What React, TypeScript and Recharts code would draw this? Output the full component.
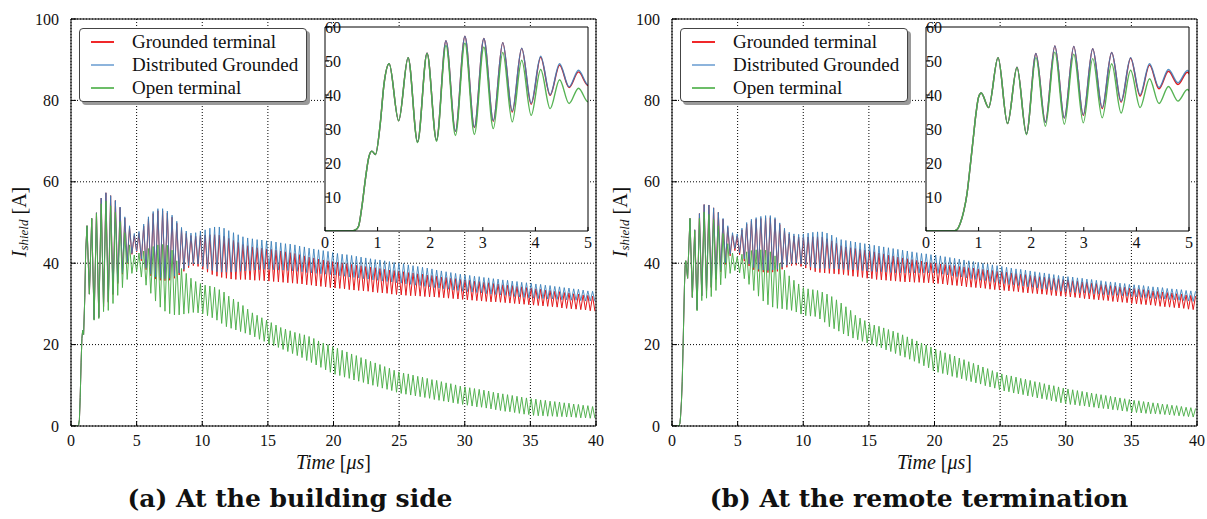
import { LineChart, Line, XAxis, YAxis, CartesianGrid, Legend } from 'recharts';

// shield current I [A] vs time [µs].
// every swing is one peak followed by one trough, half a period apart.
const HALF_PERIOD = 0.18;

const MAIN_X_TICKS = [0, 5, 10, 15, 20, 25, 30, 35, 40];
const MAIN_Y_TICKS = [0, 20, 40, 60, 80, 100];
const INSET_X_TICKS = [0, 1, 2, 3, 4, 5];
const INSET_Y_TICKS = [10, 20, 30, 40, 50, 60];

const SERIES_NAMES = ['Grounded terminal', 'Distributed Grounded', 'Open terminal'];

// ---- (a) building side ----
const LEFT_RISE_T = [0, 0.5, 0.58, 0.64, 0.7, 0.77, 0.83, 0.89, 0.96, 1.05, 1.12];
const LEFT_RISE_I = [0, 0, 0.3, 1.5, 7, 15.5, 21.5, 23.5, 22.5, 31.5, 43];
const LEFT_FIRST_PEAK = 1.22;

const LEFT_RED_PEAKS = [
  49.2, 51.0, 52.4, 56.0, 57.3, 56.6, 55.4, 53.7, 51.1, 48.8,
  46.8, 47.3, 49.1, 50.9, 52.2, 52.9, 52.9, 52.3, 51.3, 49.8,
  48.3, 47.3, 46.8, 46.6, 46.8, 46.9, 47.0, 47.0, 46.9, 46.6,
  46.1, 45.6, 45.1, 44.6, 44.3, 44.0, 43.8, 43.7, 43.5, 43.4,
  43.2, 43.0, 42.8, 42.6, 42.4, 42.1, 41.8, 41.5, 41.3, 41.0,
  40.8, 40.6, 40.4, 40.2, 40.1, 39.9, 39.7, 39.5, 39.4, 39.2,
  39.0, 38.9, 38.7, 38.5, 38.3, 38.2, 38.0, 37.9, 37.7, 37.6,
  37.4, 37.3, 37.1, 37.0, 36.8, 36.6, 36.5, 36.3, 36.2, 36.0,
  35.9, 35.8, 35.6, 35.5, 35.3, 35.2, 35.0, 34.9, 34.7, 34.6,
  34.5, 34.3, 34.2, 34.0, 33.9, 33.7, 33.6, 33.4, 33.3, 33.1,
  33.0, 32.8, 32.7, 32.5, 32.4, 32.2, 32.1, 31.9,
];
const LEFT_RED_TROUGHS = [
  32.4, 26.2, 26.7, 29.3, 30.4, 32.3, 35.0, 37.3, 39.9, 42.2,
  42.8, 40.6, 38.4, 36.9, 36.1, 35.8, 35.7, 35.8, 36.3, 37.1,
  38.0, 38.9, 39.4, 39.2, 38.5, 37.8, 37.2, 36.8, 36.5, 36.3,
  36.1, 36.0, 36.0, 36.0, 35.9, 35.8, 35.8, 35.7, 35.6, 35.5,
  35.4, 35.3, 35.2, 35.1, 35.0, 34.9, 34.7, 34.6, 34.4, 34.3,
  34.2, 34.0, 33.9, 33.8, 33.7, 33.5, 33.4, 33.3, 33.2, 33.1,
  32.9, 32.8, 32.7, 32.6, 32.4, 32.3, 32.2, 32.1, 32.0, 32.0,
  31.9, 31.8, 31.7, 31.7, 31.6, 31.5, 31.4, 31.3, 31.2, 31.1,
  31.0, 30.9, 30.8, 30.7, 30.6, 30.5, 30.5, 30.4, 30.3, 30.2,
  30.1, 30.0, 29.9, 29.8, 29.7, 29.6, 29.5, 29.4, 29.3, 29.2,
  29.0, 28.9, 28.8, 28.7, 28.6, 28.5, 28.3, 28.2,
];
const LEFT_BLUE_PEAKS = [
  49.2, 51.0, 52.4, 56.0, 57.3, 56.6, 55.4, 53.8, 51.4, 49.2,
  47.3, 47.8, 49.6, 51.4, 52.7, 53.4, 53.4, 52.8, 51.8, 50.3,
  48.8, 47.9, 47.4, 47.5, 47.9, 48.2, 48.6, 48.9, 48.9, 48.6,
  48.0, 47.5, 47.0, 46.5, 46.2, 46.0, 45.8, 45.7, 45.5, 45.4,
  45.2, 45.0, 44.8, 44.7, 44.5, 44.2, 44.0, 43.7, 43.5, 43.3,
  43.1, 42.9, 42.6, 42.4, 42.2, 42.1, 41.9, 41.7, 41.5, 41.3,
  41.1, 40.9, 40.8, 40.6, 40.4, 40.2, 40.0, 39.9, 39.6, 39.4,
  39.2, 39.0, 38.8, 38.6, 38.3, 38.1, 37.9, 37.7, 37.5, 37.3,
  37.1, 37.0, 36.8, 36.7, 36.5, 36.4, 36.2, 36.1, 35.9, 35.8,
  35.6, 35.5, 35.3, 35.2, 35.1, 34.9, 34.8, 34.6, 34.5, 34.3,
  34.2, 34.0, 33.9, 33.7, 33.6, 33.4, 33.2, 33.1,
];
const LEFT_BLUE_TROUGHS = [
  32.4, 26.2, 26.7, 29.4, 30.6, 32.5, 35.3, 37.6, 40.1, 42.4,
  43.0, 41.0, 38.8, 37.3, 36.6, 36.3, 36.2, 36.3, 36.8, 37.6,
  38.5, 39.4, 39.9, 39.8, 39.2, 38.6, 38.2, 37.9, 37.8, 37.8,
  37.8, 37.9, 38.0, 38.1, 38.2, 38.3, 38.4, 38.5, 38.5, 38.4,
  38.3, 38.3, 38.2, 38.1, 38.0, 37.9, 37.7, 37.6, 37.5, 37.4,
  37.3, 37.2, 37.1, 36.9, 36.8, 36.6, 36.5, 36.4, 36.2, 36.1,
  35.9, 35.8, 35.6, 35.5, 35.4, 35.2, 35.1, 34.9, 34.8, 34.6,
  34.5, 34.3, 34.2, 34.0, 33.9, 33.7, 33.6, 33.4, 33.3, 33.1,
  33.0, 32.9, 32.8, 32.7, 32.5, 32.4, 32.3, 32.2, 32.1, 31.9,
  31.8, 31.7, 31.6, 31.5, 31.4, 31.3, 31.3, 31.2, 31.2, 31.1,
  31.0, 31.0, 30.9, 30.9, 30.8, 30.7, 30.7, 30.6,
];
const LEFT_GREEN_PEAKS = [
  49.2, 51.0, 52.2, 54.6, 55.3, 54.1, 52.5, 50.2, 47.5, 44.5,
  42.0, 42.5, 43.0, 43.6, 44.1, 44.5, 44.6, 44.4, 43.2, 40.6,
  38.7, 37.5, 36.3, 35.5, 35.0, 34.6, 34.4, 34.1, 33.5, 32.9,
  31.9, 31.2, 30.5, 29.6, 28.7, 27.8, 27.2, 26.6, 26.0, 25.4,
  24.8, 24.2, 23.8, 23.4, 23.0, 22.7, 22.4, 22.0, 21.5, 20.9,
  20.4, 20.0, 19.5, 19.1, 18.6, 18.2, 17.7, 17.3, 16.8, 16.4,
  15.9, 15.5, 15.1, 14.6, 14.2, 13.7, 13.3, 13.0, 12.8, 12.5,
  12.2, 12.0, 11.7, 11.4, 11.2, 10.9, 10.6, 10.4, 10.1, 9.8,
  9.6, 9.4, 9.2, 9.0, 8.8, 8.6, 8.3, 8.1, 7.9, 7.7,
  7.5, 7.3, 7.1, 6.9, 6.7, 6.6, 6.4, 6.3, 6.1, 6.0,
  5.9, 5.7, 5.6, 5.4, 5.3, 5.1, 5.0, 4.8,
];
const LEFT_GREEN_TROUGHS = [
  32.4, 26.0, 26.4, 28.1, 28.4, 30.1, 32.1, 34.0, 36.0, 37.5,
  38.0, 36.6, 34.6, 32.6, 30.7, 29.2, 28.2, 27.6, 27.3, 27.3,
  27.5, 27.7, 27.9, 27.8, 27.6, 27.1, 26.6, 26.0, 25.2, 24.4,
  24.0, 23.6, 23.2, 22.8, 22.4, 21.9, 21.3, 20.8, 20.1, 19.7,
  19.3, 18.8, 18.3, 17.8, 17.3, 16.8, 16.1, 15.6, 15.0, 14.4,
  13.8, 13.2, 12.7, 12.4, 12.0, 11.7, 11.3, 11.0, 10.7, 10.3,
  10.0, 9.7, 9.3, 9.0, 8.7, 8.3, 8.0, 7.8, 7.6, 7.4,
  7.2, 7.0, 6.8, 6.5, 6.3, 6.1, 5.9, 5.7, 5.5, 5.3,
  5.1, 4.9, 4.7, 4.6, 4.4, 4.2, 4.0, 3.8, 3.6, 3.5,
  3.3, 3.1, 2.9, 2.8, 2.6, 2.5, 2.5, 2.4, 2.4, 2.3,
  2.3, 2.2, 2.2, 2.1, 2.0, 2.0, 1.9, 1.9,
];

// ---- (b) remote termination ----
const RIGHT_RISE_T = [0, 0.53, 0.6, 0.65, 0.72, 0.78, 0.84, 0.9, 0.95, 1.0, 1.05, 1.19];
const RIGHT_RISE_I = [0, 0, 0.6, 2.2, 6, 11, 19, 27.5, 34.5, 39.4, 40.6, 36.3];
const RIGHT_FIRST_PEAK = 1.37;

const RIGHT_RED_PEAKS = [
  51.0, 48.2, 52.2, 54.4, 54.3, 53.6, 52.5, 50.8, 48.8, 47.0,
  46.7, 48.2, 49.6, 50.4, 50.8, 51.0, 51.2, 51.2, 50.8, 49.5,
  48.2, 47.2, 46.7, 46.4, 46.3, 46.4, 46.5, 46.5, 46.4, 46.0,
  45.5, 44.9, 44.3, 44.0, 43.8, 43.6, 43.4, 43.2, 43.0, 42.8,
  42.5, 42.3, 42.0, 41.8, 41.5, 41.3, 41.1, 40.9, 40.7, 40.5,
  40.3, 40.1, 40.0, 39.8, 39.7, 39.5, 39.4, 39.2, 39.1, 38.9,
  38.8, 38.6, 38.5, 38.3, 38.2, 38.0, 37.9, 37.8, 37.6, 37.5,
  37.3, 37.2, 37.0, 36.9, 36.7, 36.6, 36.5, 36.3, 36.2, 36.0,
  35.9, 35.7, 35.6, 35.4, 35.3, 35.1, 35.0, 34.8, 34.7, 34.5,
  34.4, 34.2, 34.1, 33.9, 33.8, 33.7, 33.5, 33.4, 33.2, 33.1,
  32.9, 32.8, 32.7, 32.5, 32.4, 32.2, 32.1, 31.9,
];
const RIGHT_RED_TROUGHS = [
  31.6, 28.6, 32.0, 33.2, 34.0, 36.0, 37.9, 39.7, 41.8, 43.1,
  42.1, 40.5, 39.3, 38.4, 38.0, 37.8, 37.7, 37.8, 38.0, 38.5,
  39.0, 39.4, 39.5, 39.2, 38.8, 38.3, 37.9, 37.7, 37.6, 37.5,
  37.4, 37.3, 37.2, 37.0, 36.8, 36.7, 36.5, 36.3, 36.2, 36.0,
  35.9, 35.8, 35.7, 35.6, 35.5, 35.4, 35.4, 35.3, 35.3, 35.2,
  35.2, 35.1, 35.0, 34.9, 34.7, 34.6, 34.5, 34.4, 34.2, 34.1,
  34.0, 33.9, 33.8, 33.6, 33.5, 33.4, 33.3, 33.2, 33.1, 33.0,
  32.8, 32.7, 32.6, 32.5, 32.4, 32.3, 32.1, 32.0, 31.9, 31.8,
  31.7, 31.6, 31.5, 31.3, 31.2, 31.1, 31.0, 30.9, 30.8, 30.6,
  30.5, 30.4, 30.3, 30.1, 30.0, 29.9, 29.8, 29.7, 29.6, 29.4,
  29.3, 29.2, 29.1, 29.0, 28.9, 28.7, 28.6,
];
const RIGHT_BLUE_PEAKS = [
  51.0, 48.2, 52.2, 54.4, 54.3, 53.6, 52.5, 51.0, 49.2, 47.5,
  47.2, 48.6, 50.0, 50.8, 51.2, 51.5, 51.7, 51.7, 51.2, 49.9,
  48.6, 47.6, 47.2, 47.1, 47.2, 47.4, 47.6, 47.7, 47.7, 47.4,
  46.9, 46.3, 45.8, 45.6, 45.4, 45.2, 45.0, 44.8, 44.6, 44.4,
  44.2, 44.0, 43.8, 43.6, 43.4, 43.2, 43.0, 42.8, 42.6, 42.4,
  42.3, 42.1, 42.0, 41.8, 41.6, 41.4, 41.2, 41.0, 40.8, 40.6,
  40.4, 40.2, 40.0, 39.8, 39.6, 39.4, 39.2, 39.0, 38.8, 38.6,
  38.5, 38.3, 38.1, 37.9, 37.7, 37.6, 37.4, 37.2, 37.0, 36.8,
  36.7, 36.6, 36.4, 36.3, 36.1, 36.0, 35.8, 35.7, 35.5, 35.4,
  35.3, 35.1, 35.0, 34.8, 34.7, 34.6, 34.5, 34.3, 34.2, 34.1,
  34.0, 33.8, 33.7, 33.6, 33.5, 33.3, 33.2, 33.1,
];
const RIGHT_BLUE_TROUGHS = [
  31.6, 28.6, 32.0, 33.3, 34.2, 36.3, 38.2, 40.1, 42.2, 43.6,
  42.6, 41.0, 39.8, 38.9, 38.5, 38.3, 38.2, 38.3, 38.5, 39.0,
  39.5, 39.9, 40.0, 39.8, 39.5, 39.1, 38.8, 38.7, 38.7, 38.7,
  38.6, 38.6, 38.5, 38.4, 38.4, 38.3, 38.2, 38.1, 38.0, 37.9,
  37.9, 37.8, 37.7, 37.6, 37.6, 37.6, 37.6, 37.6, 37.6, 37.6,
  37.6, 37.6, 37.5, 37.3, 37.1, 36.9, 36.7, 36.6, 36.4, 36.2,
  36.0, 35.8, 35.7, 35.5, 35.3, 35.1, 35.0, 34.8, 34.7, 34.5,
  34.4, 34.2, 34.1, 33.9, 33.7, 33.6, 33.4, 33.3, 33.1, 33.0,
  32.9, 32.8, 32.7, 32.7, 32.6, 32.5, 32.4, 32.3, 32.2, 32.1,
  32.1, 32.0, 31.9, 31.8, 31.7, 31.6, 31.5, 31.4, 31.3, 31.3,
  31.2, 31.1, 31.0, 30.9, 30.8, 30.7, 30.6,
];
const RIGHT_GREEN_PEAKS = [
  51.0, 48.0, 51.0, 52.6, 52.0, 50.7, 49.2, 47.3, 44.8, 42.5,
  41.6, 42.2, 42.8, 43.1, 43.3, 43.3, 43.2, 42.8, 41.8, 40.0,
  38.3, 36.9, 35.8, 34.9, 34.0, 33.7, 33.5, 33.3, 32.9, 32.4,
  31.8, 31.0, 30.2, 29.3, 28.4, 27.2, 26.5, 25.9, 25.2, 24.8,
  24.5, 24.1, 23.7, 23.3, 22.9, 22.4, 21.9, 21.4, 20.9, 20.4,
  19.9, 19.4, 18.9, 18.5, 18.0, 17.6, 17.2, 16.7, 16.3, 15.8,
  15.4, 15.0, 14.5, 14.1, 13.6, 13.2, 12.8, 12.5, 12.3, 12.0,
  11.7, 11.5, 11.2, 10.9, 10.7, 10.4, 10.1, 9.9, 9.6, 9.3,
  9.1, 8.9, 8.7, 8.5, 8.3, 8.1, 7.9, 7.7, 7.5, 7.3,
  7.1, 6.9, 6.7, 6.5, 6.3, 6.2, 6.0, 5.9, 5.7, 5.6,
  5.4, 5.3, 5.1, 5.0, 4.8, 4.6, 4.5, 4.3,
];
const RIGHT_GREEN_TROUGHS = [
  31.6, 28.3, 30.8, 31.4, 31.8, 33.3, 34.7, 36.3, 37.5, 38.2,
  37.6, 36.2, 34.8, 33.3, 31.9, 30.7, 29.8, 29.2, 28.9, 28.8,
  28.6, 28.4, 28.0, 27.5, 27.1, 27.0, 26.9, 26.3, 25.5, 24.4,
  23.9, 23.3, 22.6, 22.1, 21.6, 21.2, 20.8, 20.4, 20.0, 19.6,
  19.2, 18.7, 18.3, 17.8, 17.3, 16.9, 16.4, 15.9, 15.4, 14.8,
  14.3, 13.6, 13.2, 12.9, 12.6, 12.2, 11.9, 11.6, 11.2, 10.9,
  10.6, 10.3, 9.9, 9.6, 9.3, 8.9, 8.6, 8.4, 8.1, 7.9,
  7.7, 7.4, 7.2, 6.9, 6.7, 6.5, 6.2, 6.0, 5.7, 5.5,
  5.3, 5.2, 5.0, 4.9, 4.7, 4.6, 4.4, 4.3, 4.2, 4.0,
  3.9, 3.7, 3.6, 3.4, 3.3, 3.2, 3.1, 3.0, 3.0, 2.9,
  2.8, 2.7, 2.6, 2.5, 2.4, 2.3, 2.2,
];

const SERIF = '"Liberation Serif", "DejaVu Serif", serif';
const TICK = { fontSize: 16, fill: '#111', style: { fontFamily: SERIF } };

const COLORS = { red: '#e41a1c', blue: '#377eb8', green: '#4daf4a' };
const LEGEND_COLORS = ['#f0282a', '#8db4dc', '#6cbd68'];

type Swing = { peaks: number[]; troughs: number[] };
type Row = { t: number; red: number; blue: number; green: number };

function buildRows(riseT: number[], riseI: number[], firstPeak: number, red: Swing, blue: Swing, green: Swing): Row[] {
  const rows: Row[] = riseT.map((t, i) => ({ t, red: riseI[i], blue: riseI[i], green: riseI[i] }));
  const pick = (s: Swing, k: number) => (k % 2 === 0 ? s.peaks[k / 2] : s.troughs[(k - 1) / 2]);
  const count = red.peaks.length + red.troughs.length;
  for (let k = 0; k < count; k++) {
    rows.push({
      t: Math.round((firstPeak + k * HALF_PERIOD) * 1000) / 1000,
      red: pick(red, k),
      blue: pick(blue, k),
      green: pick(green, k),
    });
  }
  return rows;
}

const LEFT_ROWS = buildRows(
  LEFT_RISE_T, LEFT_RISE_I, LEFT_FIRST_PEAK,
  { peaks: LEFT_RED_PEAKS, troughs: LEFT_RED_TROUGHS },
  { peaks: LEFT_BLUE_PEAKS, troughs: LEFT_BLUE_TROUGHS },
  { peaks: LEFT_GREEN_PEAKS, troughs: LEFT_GREEN_TROUGHS },
);
const RIGHT_ROWS = buildRows(
  RIGHT_RISE_T, RIGHT_RISE_I, RIGHT_FIRST_PEAK,
  { peaks: RIGHT_RED_PEAKS, troughs: RIGHT_RED_TROUGHS },
  { peaks: RIGHT_BLUE_PEAKS, troughs: RIGHT_BLUE_TROUGHS },
  { peaks: RIGHT_GREEN_PEAKS, troughs: RIGHT_GREEN_TROUGHS },
);

const SERIES = [
  { key: 'red', name: SERIES_NAMES[0], color: COLORS.red, opacity: 1 },
  { key: 'blue', name: SERIES_NAMES[1], color: COLORS.blue, opacity: 0.85 },
  { key: 'green', name: SERIES_NAMES[2], color: COLORS.green, opacity: 0.95 },
];

const renderLegend = () => (
  <div
    style={{
      width: 228,
      height: 74,
      boxSizing: 'border-box',
      border: '1px solid #444',
      borderRadius: 4,
      background: '#fff',
      boxShadow: '3px 3px 0 #9a9a9a',
      padding: '1px 0 0 11px',
      fontFamily: SERIF,
      fontSize: 19,
      color: '#111',
    }}
  >
    {SERIES_NAMES.map((name, i) => (
      <div key={name} style={{ display: 'flex', alignItems: 'center', height: 23, whiteSpace: 'nowrap' }}>
        <span style={{ display: 'inline-block', width: 23, height: 0, borderTop: `2px solid ${LEGEND_COLORS[i]}`, marginRight: 18 }} />
        <span>{name}</span>
      </div>
    ))}
  </div>
);

const renderTimeLabel = () => (
  <text x={333.5} y={469} textAnchor="middle" fontSize={20} fill="#111" style={{ fontFamily: SERIF }}>
    <tspan fontStyle="italic">Time</tspan>
    <tspan> [</tspan>
    <tspan fontStyle="italic">μs</tspan>
    <tspan>]</tspan>
  </text>
);

const renderCurrentLabel = () => (
  <text
    x={19} y={222} transform="rotate(-90 19 222)" textAnchor="middle" dominantBaseline="central"
    fontSize={20} fill="#111" style={{ fontFamily: SERIF }}
  >
    <tspan fontStyle="italic">I</tspan>
    <tspan fontStyle="italic" fontSize={13} dy={4}>shield</tspan>
    <tspan dy={-4}> [A]</tspan>
  </text>
);

function Panel({ rows, left, caption, captionCenter }: { rows: Row[]; left: number; caption: string; captionCenter: number }) {
  return (
    <div style={{ position: 'absolute', left, top: 0, width: 606, height: 519, fontFamily: SERIF }}>
      <div style={{ position: 'absolute', left: 0, top: 0 }}>
        <LineChart width={620} height={480} data={rows} margin={{ top: 18, right: 23, bottom: 24, left: 0 }} style={{ fontFamily: SERIF }}>
          <CartesianGrid stroke="#000" strokeDasharray="1 2" />
          <XAxis
            dataKey="t" type="number" domain={[0, 40]} ticks={MAIN_X_TICKS} allowDataOverflow interval={0}
            height={30} tickSize={-5} tickMargin={14} stroke="#000" tick={TICK}
            label={{ content: renderTimeLabel }}
          />
          <XAxis xAxisId="top" orientation="top" type="number" domain={[0, 40]} ticks={MAIN_X_TICKS} allowDataOverflow height={1} tick={false} tickSize={-5} stroke="#000" />
          <YAxis
            type="number" domain={[0, 100]} ticks={MAIN_Y_TICKS} allowDataOverflow interval={0}
            width={71} tickSize={-5} tickMargin={17} stroke="#000" tick={TICK}
            label={{ content: renderCurrentLabel }}
          />
          <YAxis yAxisId="right" orientation="right" type="number" domain={[0, 100]} ticks={MAIN_Y_TICKS} allowDataOverflow width={1} tick={false} tickSize={-5} stroke="#000" />
          <Legend layout="vertical" align="center" verticalAlign="middle" content={renderLegend} wrapperStyle={{ left: 79, top: 28, width: 228, height: 74 }} />
          {SERIES.map((s) => (
            <Line
              key={s.key} dataKey={s.key} name={s.name} type="linear" stroke={s.color} strokeOpacity={s.opacity}
              strokeWidth={1} dot={false} activeDot={false} isAnimationActive={false}
            />
          ))}
        </LineChart>
      </div>
      <div style={{ position: 'absolute', left: 300, top: 10 }}>
        <LineChart width={300} height={250} data={rows} margin={{ top: 16, right: 11, bottom: 5, left: 24 }} style={{ fontFamily: SERIF }}>
          <CartesianGrid fill="#fff" horizontal={false} vertical={false} />
          <XAxis dataKey="t" type="number" domain={[0, 5]} ticks={INSET_X_TICKS} allowDataOverflow interval={0} height={24} tickSize={-4} tickMargin={10} stroke="#000" tick={TICK} />
          <XAxis xAxisId="top" orientation="top" type="number" domain={[0, 5]} ticks={INSET_X_TICKS} allowDataOverflow height={1} tick={false} tickSize={-4} stroke="#000" />
          <YAxis yAxisId={0} type="number" domain={[0, 60]} ticks={INSET_Y_TICKS} allowDataOverflow interval={0} width={1} tickSize={-4} tickMargin={-12} stroke="#000" tick={TICK} />
          <YAxis yAxisId="right" orientation="right" type="number" domain={[0, 60]} ticks={INSET_Y_TICKS} allowDataOverflow width={1} tick={false} tickSize={-4} stroke="#000" />
          {SERIES.map((s) => (
            <Line
              key={s.key} dataKey={s.key} name={s.name} type="monotone" stroke={s.color} strokeOpacity={s.opacity}
              strokeWidth={1.4} dot={false} activeDot={false} isAnimationActive={false}
            />
          ))}
        </LineChart>
      </div>
      <div
        style={{
          position: 'absolute', top: 484, left: captionCenter - 250, width: 500, textAlign: 'center',
          fontFamily: '"DejaVu Serif", serif', fontWeight: 'bold', fontSize: 25, color: '#111', whiteSpace: 'nowrap',
        }}
      >
        {caption}
      </div>
    </div>
  );
}

export default function App() {
  return (
    <div style={{ position: 'absolute', left: 0, top: 0, width: 1207, height: 519, background: '#fff', overflow: 'hidden' }}>
      <Panel rows={LEFT_ROWS} left={0} caption="(a) At the building side" captionCenter={290} />
      <Panel rows={RIGHT_ROWS} left={601} caption="(b) At the remote termination" captionCenter={318} />
    </div>
  );
}
